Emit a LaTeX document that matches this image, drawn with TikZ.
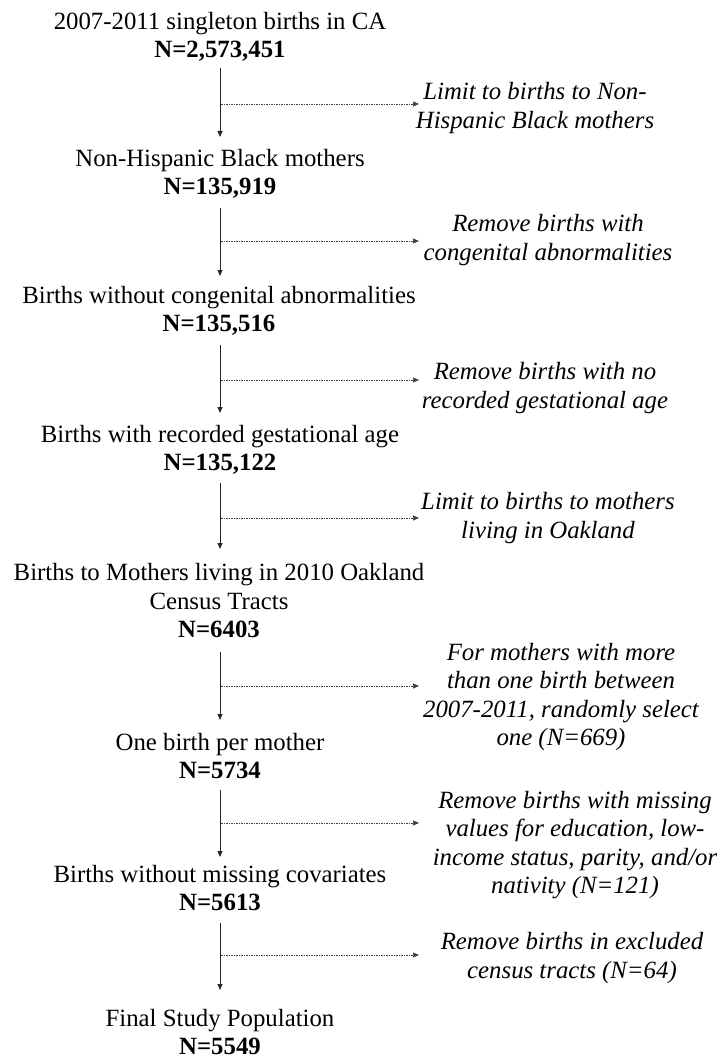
\documentclass[tikz,border=0pt]{standalone}
\usepackage{fontspec}
\setmainfont{Liberation Serif}
\usetikzlibrary{arrows.meta}
\begin{document}
\begin{tikzpicture}[x=1pt,y=-1pt,
  mainbox/.style={align=center,font=\fontsize{24.8}{28.5}\selectfont,inner sep=0pt},
  sidebox/.style={align=center,font=\fontsize{24.8}{28.5}\selectfont\itshape,inner sep=0pt},
  flow/.style={-{Triangle[length=6pt,width=5pt]},line width=0.8pt,draw=black!85,fill=black!85},
  excl/.style={-{Triangle[length=6pt,width=5pt]},line width=0.6pt,dash pattern=on 1.5pt off 1pt,draw=black!75}]
\useasboundingbox (0,0) rectangle (718,1059);
% main column
\node[mainbox] (m1) at (220,37) {2007-2011 singleton births in CA\\\textbf{N=2,573,451}};
\node[mainbox] (m2) at (220,174) {Non-Hispanic Black mothers\\\textbf{N=135,919}};
\node[mainbox] (m3) at (219,311) {Births without congenital abnormalities\\\textbf{N=135,516}};
\node[mainbox] (m4) at (220,450) {Births with recorded gestational age\\\textbf{N=135,122}};
\node[mainbox] (m5) at (219,601) {Births to Mothers living in 2010 Oakland\\Census Tracts\\\textbf{N=6403}};
\node[mainbox] (m6) at (220,756) {One birth per mother\\\textbf{N=5734}};
\node[mainbox] (m7) at (220,888) {Births without missing covariates\\\textbf{N=5613}};
\node[mainbox] (m8) at (220,1032) {Final Study Population\\\textbf{N=5549}};
% side notes
\node[sidebox] (s1) at (535,108) {Limit to births to Non-\\Hispanic Black mothers};
\node[sidebox] (s2) at (548,240) {Remove births with\\congenital abnormalities};
\node[sidebox] (s3) at (545,388) {Remove births with no\\recorded gestational age};
\node[sidebox] (s4) at (548,518) {Limit to births to mothers\\living in Oakland};
\node[sidebox] (s5) at (561,697) {For mothers with more\\than one birth between\\2007-2011, randomly select\\one (N=669)};
\node[sidebox] (s6) at (575,845) {Remove births with missing\\values for education, low-\\income status, parity, and/or\\nativity (N=121)};
\node[sidebox] (s7) at (572,958) {Remove births in excluded\\census tracts (N=64)};
% arrow anchor points
\coordinate (a1) at (220,68);  \coordinate (b1) at (220,137);
\coordinate (a2) at (220,208); \coordinate (b2) at (220,276);
\coordinate (a3) at (220,345); \coordinate (b3) at (220,413);
\coordinate (a4) at (220,483); \coordinate (b4) at (220,549);
\coordinate (a5) at (220,652); \coordinate (b5) at (220,720);
\coordinate (a6) at (220,790); \coordinate (b6) at (220,857);
\coordinate (a7) at (220,923); \coordinate (b7) at (220,990);
\coordinate (d1) at (221,104); \coordinate (e1) at (419,104);
\coordinate (d2) at (221,241); \coordinate (e2) at (419,241);
\coordinate (d3) at (221,380); \coordinate (e3) at (419,380);
\coordinate (d4) at (221,518); \coordinate (e4) at (419,518);
\coordinate (d5) at (221,686); \coordinate (e5) at (419,686);
\coordinate (d6) at (221,823); \coordinate (e6) at (419,823);
\coordinate (d7) at (221,955); \coordinate (e7) at (419,955);
\foreach \i in {1,...,7} {
  \draw[flow] (a\i) -- (b\i);
  \draw[excl] (d\i) -- (e\i);
}
\end{tikzpicture}
\end{document}
